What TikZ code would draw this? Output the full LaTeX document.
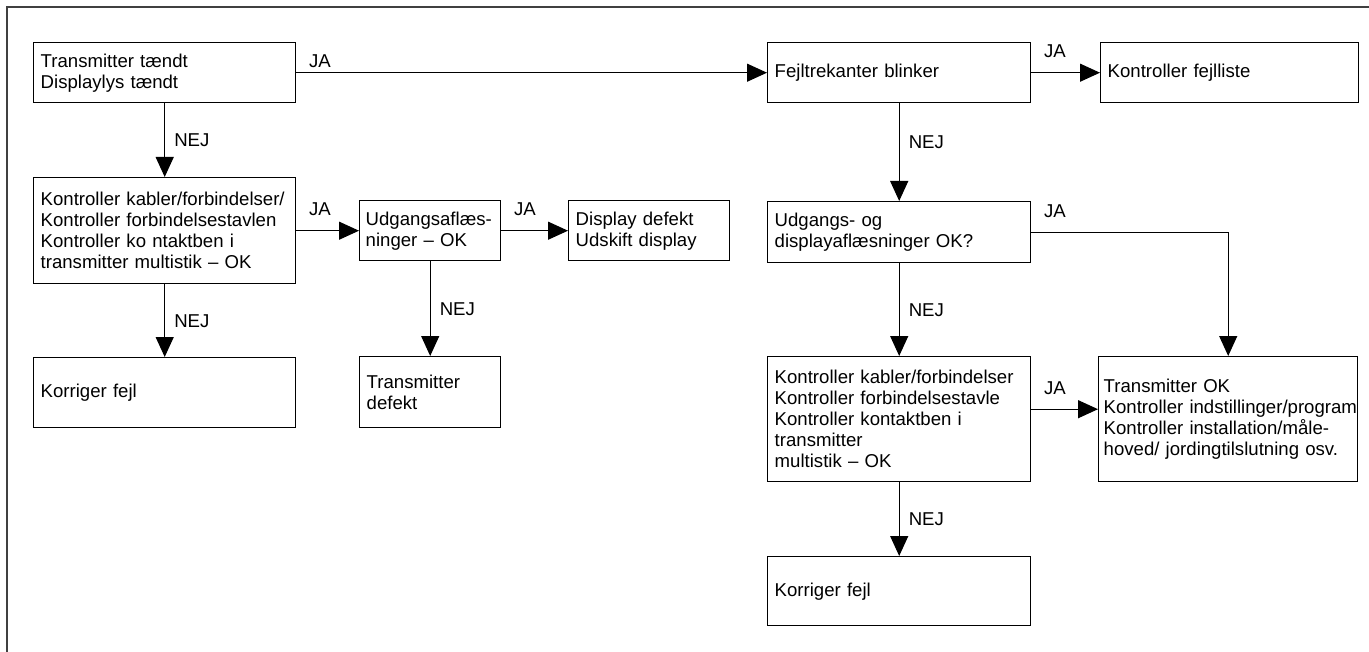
\documentclass[tikz,border=0pt]{standalone}
\usepackage{fontspec}
\setmainfont{Liberation Sans}
\usetikzlibrary{arrows.meta}

\begin{document}
\begin{tikzpicture}[x=0.5pt, y=-0.5pt, >={Triangle[length=10pt,width=9pt]},
  box/.style={draw, line width=0.7pt, anchor=north west, align=left, inner xsep=3.5pt, inner ysep=0pt, font=\fontsize{9.3}{10.5}\selectfont},
  flow/.style={->, line width=0.6pt},
  jalabel/.style={pos=0, anchor=south west, inner sep=0pt, xshift=6pt, yshift=7pt, font=\fontsize{9.3}{10.5}\selectfont},
  nejlabel/.style={midway, anchor=west, inner sep=0pt, xshift=4.5pt, font=\fontsize{9.3}{10.5}\selectfont}]
\useasboundingbox (0,0) rectangle (1369,652);

% Frame
\draw[line width=0.8pt, black!75] (7,652) -- (7,7) -- (1369,7);

% Left part
\node[box, text width=124pt, minimum height=30pt] (tdisp) at (33,42) {Transmitter tændt\\Displaylys tændt};
\node[box, text width=124pt, minimum height=53pt] (kabel) at (33,177) {Kontroller kabler/forbindelser/\\Kontroller forbindelsestavlen\\Kontroller ko ntaktben i\\transmitter multistik – OK};
\node[box, text width=124pt, minimum height=35pt] (korr1) at (33,357) {Korriger fejl};
\node[box, text width=64.5pt, inner xsep=3pt, minimum height=30pt] (udg) at (359,200) {\mbox{Udgangsaflæs-}\\ninger – OK};
\node[box, text width=73.5pt, minimum height=30pt] (disp) at (568,200) {Display defekt\\Udskift display};
\node[box, text width=63.5pt, minimum height=35.5pt] (tdef) at (359,356) {Transmitter\\defekt};

% Right part
\node[box, text width=124.5pt, minimum height=30pt] (blink) at (767,42) {Fejltrekanter blinker};
\node[box, text width=122pt, minimum height=30pt] (fliste) at (1100,42) {Kontroller fejlliste};
\node[box, text width=124.5pt, minimum height=30.5pt] (aflaes) at (767,201) {Udgangs- og\\displayaflæsninger OK?};
\node[box, text width=124.5pt, minimum height=62.5pt] (kabel2) at (767,356) {Kontroller kabler/forbindelser\\Kontroller forbindelsestavle\\Kontroller kontaktben i\\transmitter\\multistik – OK};
\node[box, text width=124.5pt, inner xsep=2.5pt, minimum height=62.5pt] (tok) at (1098,356) {Transmitter OK\\\mbox{Kontroller indstillinger/program}\\Kontroller installation/måle-\\hoved/ jordingtilslutning osv.};
\node[box, text width=124.5pt, minimum height=34.5pt] (korr2) at (767,556) {Korriger fejl};

% JA
\draw[flow] (tdisp) -- (blink) node[jalabel, yshift=-5pt] {JA};
\draw[flow] (blink) -- (fliste) node[jalabel] {JA};
\draw[flow] (kabel) -- (udg) node[jalabel] {JA};
\draw[flow] (udg) -- (disp) node[jalabel] {JA};
\draw[flow] (aflaes.east) -| (tok.north) node[jalabel] {JA};
\draw[flow] ([yshift=5pt]kabel2.east) -- ([yshift=5pt]tok.west) node[jalabel] {JA};

% NEJ
\draw[flow] (tdisp) -- (kabel) node[nejlabel] {NEJ};
\draw[flow] (kabel) -- (korr1) node[nejlabel] {NEJ};
\draw[flow] (udg) -- (tdef) node[nejlabel] {NEJ};
\draw[flow] (blink) -- (aflaes) node[nejlabel, pos=0.4] {NEJ};
\draw[flow] (aflaes) -- (kabel2) node[nejlabel] {NEJ};
\draw[flow] (kabel2) -- (korr2) node[nejlabel] {NEJ};
\end{tikzpicture}
\end{document}
